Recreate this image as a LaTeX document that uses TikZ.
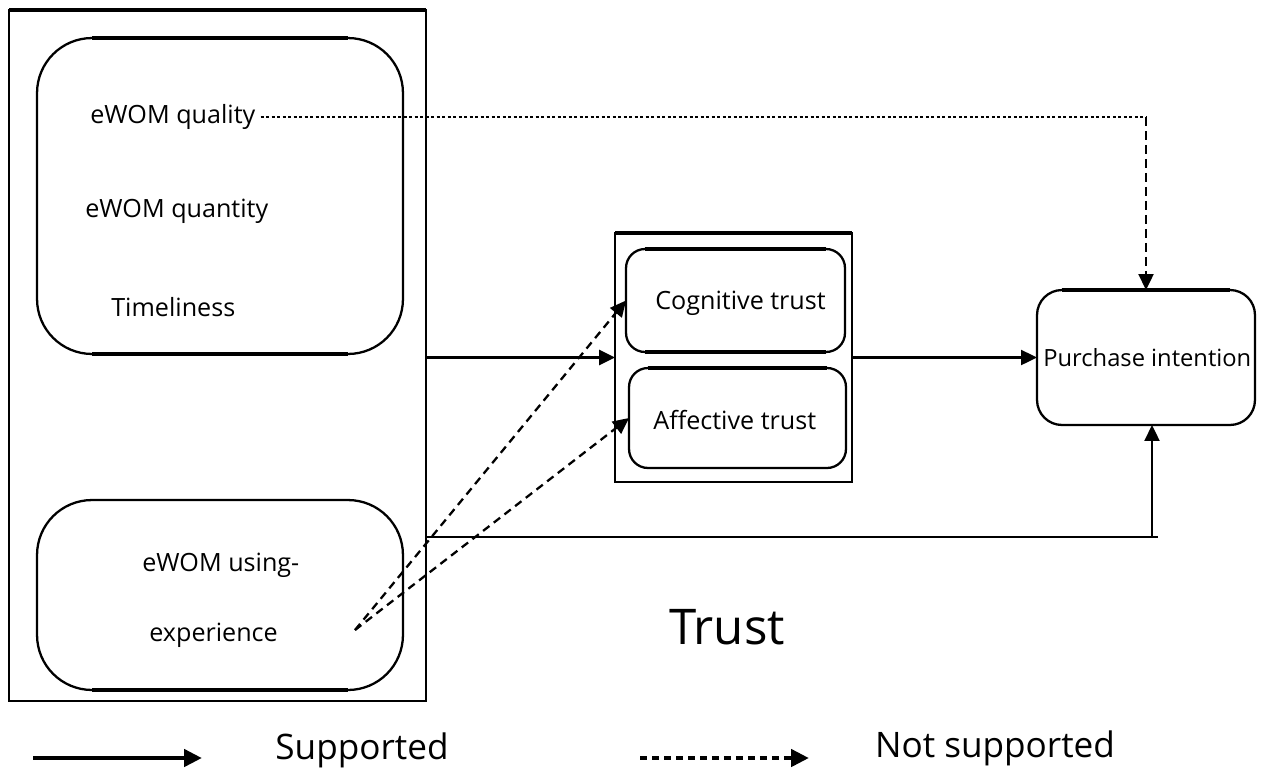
\documentclass[tikz,border=0pt]{standalone}
\usepackage{fontspec}
\setmainfont{Open Sans}
\usetikzlibrary{arrows.meta,positioning}

\begin{document}
\begin{tikzpicture}[x=0.02cm, y=-0.02cm,
    box/.style={draw, line width=1.3pt, inner sep=0pt, outer sep=0pt},
    rbox/.style={box, rounded corners=#1},
    lbl/.style={inner sep=0pt, anchor=west, font=\fontsize{14.3}{17}\selectfont},
    tip/.style={-{Triangle[length=0.32cm, width=0.3cm]}},
    supp/.style={line width=1.3pt, tip},
    notsupp/.style={line width=1.3pt, dash pattern=on 0.16cm off 0.11cm, tip},
    dots/.style={line width=1.3pt, dash pattern=on 0.06cm off 0.05cm}]
  \useasboundingbox (0,0) rectangle (1267,778);

  % Antecedentes
  \node[box, line width=1.6pt, minimum width=8.34cm, minimum height=13.82cm] (predictors) at (217.5,355.5) {};
  \node[rbox=1.1cm, minimum width=7.32cm, minimum height=6.32cm] (grpA) at (220,196) {};
  \node[rbox=1.1cm, minimum width=7.32cm, minimum height=3.8cm] (grpB) at (220,595) {};
  \node[lbl] (qual) at (90,117) {eWOM quality};
  \node[lbl] (quant) at (85,211) {eWOM quantity};
  \node[lbl] (time) at (111,307) {Timeliness};
  \node[lbl] (using) at (142,565) {eWOM using-};
  \node[lbl] (exper) at (149,635) {experience};

  % Trust
  \node[box, line width=1.6pt, minimum width=4.74cm, minimum height=4.98cm] (trust) at (733.5,357.5) {};
  \node[rbox=0.38cm, minimum width=4.38cm, minimum height=2.06cm] (cog) at (735.5,300.5) {};
  \node[rbox=0.38cm, minimum width=4.34cm, minimum height=2cm] (aff) at (737.5,418) {};
  \node[lbl] (cogtxt) at (655,303) {Cognitive trust};
  \node[lbl] (afftxt) at (653,420) {Affective trust};
  \node[font=\fontsize{28}{32}\selectfont] (trusttxt) at (727,627) {Trust};

  % Purchase intention
  \node[rbox=0.5cm, minimum width=4.36cm, minimum height=2.7cm] (pi) at (1146,357.5) {};
  \node[lbl, font=\fontsize{13.5}{16}\selectfont] (pitxt) at (1043,358) {Purchase intention};

  % bordas mais grossas
  \draw[line width=2.4pt] (predictors.north west) -- (predictors.north east);
  \draw[line width=2pt] (trust.north west) -- (trust.north east);
  \foreach \b/\r in {grpA/1.1cm, cog/0.38cm, aff/0.38cm, pi/0.5cm}
    \draw[line width=2.4pt] ([xshift=\r]\b.north west) -- ([xshift=-\r]\b.north east);
  \foreach \b/\r in {grpA/1.1cm, grpB/1.1cm, cog/0.38cm}
    \draw[line width=2.4pt] ([xshift=\r]\b.south west) -- ([xshift=-\r]\b.south east);

  % Setas
  \coordinate (bend) at (qual.east -| pi.north);
  \draw[dots] ([xshift=0.1cm]qual.east) -- (bend);
  \draw[notsupp, dash pattern=on 0.18cm off 0.1cm] (bend) -- (pi.north);
  \draw[supp, line width=1.8pt] (predictors.east |- trust.west) -- (trust.west);
  \draw[supp] (trust.east) -- (pi.west);
  \coordinate (split) at (predictors.east |- 0,537);
  \coordinate (corner) at ([xshift=0.12cm]pi.south |- 0,537);
  \draw[line width=1.3pt] (split) -- ([xshift=0.12cm]corner);
  \draw[supp] (corner) -- ([xshift=0.12cm]pi.south);
  \coordinate (src) at (355,630);
  \draw[notsupp] (src) -- (cog.west);
  \draw[notsupp] (src) -- (aff.west);

  % Legenda
  \coordinate (legA) at (33,758);
  \coordinate (legB) at (202,758);
  \coordinate (legC) at (640,758);
  \coordinate (legD) at (809,758);
  \draw[line width=2.8pt, -{Triangle[length=0.36cm, width=0.34cm]}] (legA) -- (legB);
  \draw[line width=2.8pt, dash pattern=on 0.14cm off 0.1cm, -{Triangle[length=0.36cm, width=0.34cm]}] (legC) -- (legD);
  \node[font=\fontsize{20}{24}\selectfont] (legsupp) at (362,750) {Supported};
  \node[font=\fontsize{20}{24}\selectfont] (legnot) at (995,748) {Not supported};
\end{tikzpicture}
\end{document}
